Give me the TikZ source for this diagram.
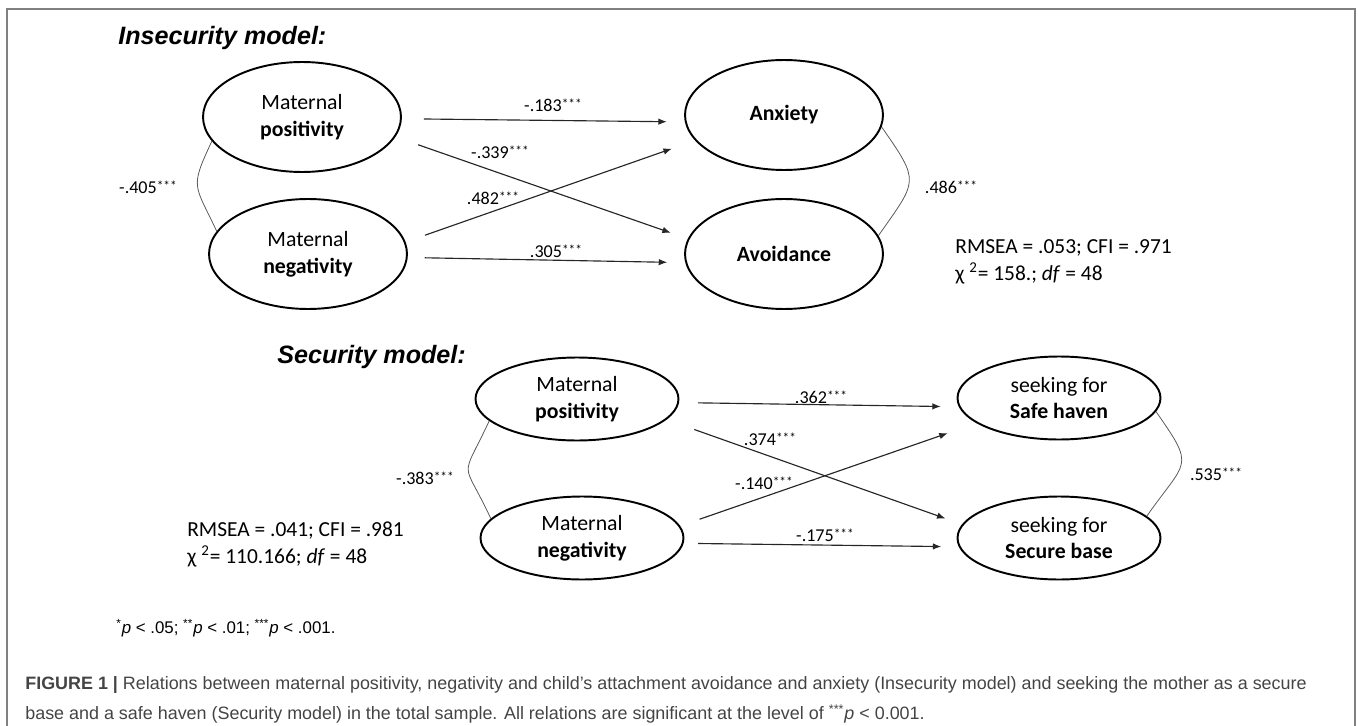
\documentclass[tikz,border=0pt]{standalone}
\usepackage{fontspec}
\setmainfont{Carlito}
\newfontfamily\arialfont{Liberation Sans}
\usepackage{xcolor}
\usetikzlibrary{shapes.geometric, arrows.meta, positioning}

\newcommand{\ellfont}{\fontsize{12.4pt}{15.3pt}\selectfont}
\newcommand{\coeffont}{\fontsize{10.3pt}{12pt}\selectfont}
\newcommand{\statfont}{\fontsize{12.2pt}{15.3pt}\selectfont}
\newcommand{\titlefont}{\arialfont\bfseries\itshape\fontsize{14.3pt}{16pt}\selectfont}
\newcommand{\notefont}{\arialfont\fontsize{9.6pt}{11pt}\selectfont}
\newcommand{\capfont}{\arialfont\fontsize{10.2pt}{17pt}\selectfont}
\newcommand{\stars}{\raisebox{1.6pt}{\fontsize{7.6pt}{8pt}\selectfont ***}}

\definecolor{framegray}{HTML}{808080}
\definecolor{capgray}{HTML}{444444}

\tikzstyle{latent} = [ellipse, draw=black, line width=1.1pt, inner sep=0pt, align=center, font=\ellfont]
\tikzstyle{bigoval} = [latent, minimum width=3.96cm, minimum height=2.2cm]
\tikzstyle{flatoval} = [latent, minimum width=4.06cm, minimum height=1.66cm]
\tikzstyle{arrow} = [line width=0.65pt, draw=black!85, -{Latex[length=1.7mm,width=1.3mm]}]
\tikzstyle{cov} = [line width=0.45pt, draw=black!65]
\tikzstyle{coef} = [font=\coeffont, inner sep=0pt]
\tikzstyle{fitstat} = [font=\statfont, align=left, anchor=west, inner sep=0pt]
\tikzstyle{heading} = [font=\titlefont, anchor=west, inner sep=0pt]

\begin{document}
\begin{tikzpicture}[x=0.02cm, y=0.02cm]
  \useasboundingbox (0,0) rectangle (1358,-726);
  \draw [framegray, line width=1.2pt] (7,-9) rectangle (1355,-740);
  % insecurity model
    \node (institle) [heading] at (118,-38) {Insecurity model:};
    \node (mpos) [bigoval] at (302,-117) {Maternal\\\textbf{positivity}};
    \node (mneg) [bigoval] at (308,-254) {Maternal\\\textbf{negativity}};
    \node (anx) [bigoval] at (784,-115) {\textbf{Anxiety}};
    \node (avo) [bigoval] at (784,-254) {\textbf{Avoidance}};
    \node (fitins) [fitstat] at (955,-261.5) {RMSEA = .053; CFI = .971\\χ \textsuperscript{2}= 158.; \textit{df} = 48};
  % coefficients
    \node (c183) [coef] at (553,-105) {-.183\stars};
    \node (c339) [coef] at (500,-152) {-.339\stars};
    \node (c482) [coef] at (493,-198) {.482\stars};
    \node (c305) [coef] at (556,-251) {.305\stars};
    \node (c405) [coef] at (148,-187) {-.405\stars};
    \node (c486) [coef] at (951,-187) {.486\stars};
  % arrows
    \draw [arrow, shorten <=0.44cm, shorten >=0.36cm] (mpos.-1) -- (anx.184);
    \draw [arrow, shorten <=0.48cm, shorten >=0.36cm] (mpos.-12) -- (avo.171);
    \draw [arrow, shorten <=0.41cm, shorten >=0.49cm] (mneg.7) -- (anx.196);
    \draw [arrow, shorten <=0.34cm, shorten >=0.36cm] (mneg.-2) -- (avo.185);
    \draw [cov] (mpos.195) to[out=-115, in=115, looseness=1.5] (mneg.166);
    \draw [cov] (anx.-7) to[out=-55, in=55, looseness=1.6] (avo.11);

  % security model
    \node (sectitle) [heading] at (277,-357) {Security model:};
    \node (mpos2) [flatoval] at (577,-399) {Maternal\\\textbf{positivity}};
    \node (mneg2) [flatoval] at (582,-538) {Maternal\\\textbf{negativity}};
    \node (haven) [flatoval] at (1059,-398) {seeking for\\\textbf{Safe haven}};
    \node (base) [flatoval] at (1059,-538) {seeking for\\\textbf{Secure base}};
    \node (fitsec) [fitstat] at (187,-544.5) {RMSEA = .041; CFI = .981\\χ \textsuperscript{2}= 110.166; \textit{df} = 48};
  % coefficients
    \node (c362) [coef] at (821,-397) {.362\stars};
    \node (c374) [coef] at (770,-439) {.374\stars};
    \node (c140) [coef] at (764,-483) {-.140\stars};
    \node (c175) [coef] at (825,-535) {-.175\stars};
    \node (c383) [coef] at (425,-478) {-.383\stars};
    \node (c535) [coef] at (1216,-474) {.535\stars};
  % arrows
    \draw [arrow, shorten <=0.38cm, shorten >=0.36cm] (mpos2.-2) -- (haven.185);
    \draw [arrow, shorten <=0.59cm, shorten >=0.35cm] (mpos2.-13) -- (base.172);
    \draw [arrow, shorten <=0.41cm, shorten >=0.61cm] (mneg2.7) -- (haven.197);
    \draw [arrow, shorten <=0.29cm, shorten >=0.35cm] (mneg2.-3) -- (base.185);
    \draw [cov] (mpos2.194) to[out=-115, in=115, looseness=1.8] (mneg2.168);
    \draw [cov] (haven.-8) to[out=-55, in=55, looseness=1.7] (base.14);

  % notes
    \node (pnote) [font=\notefont, anchor=west, inner sep=0pt] at (116,-628) {\textsuperscript{*}\textit{p} < .05; \textsuperscript{**}\textit{p} < .01; \textsuperscript{***}\textit{p} < .001.};
    \node (caption) [font=\capfont, text=capgray, anchor=west, align=left, inner sep=0pt] at (25,-700) {\textbf{FIGURE 1 |} Relations between maternal positivity, negativity and child’s attachment avoidance and anxiety (Insecurity model) and seeking the mother as a secure\\base and a safe haven (Security model) in the total sample. All relations are significant at the level of \textsuperscript{***}\textit{p} < 0.001.};
\end{tikzpicture}
\end{document}
